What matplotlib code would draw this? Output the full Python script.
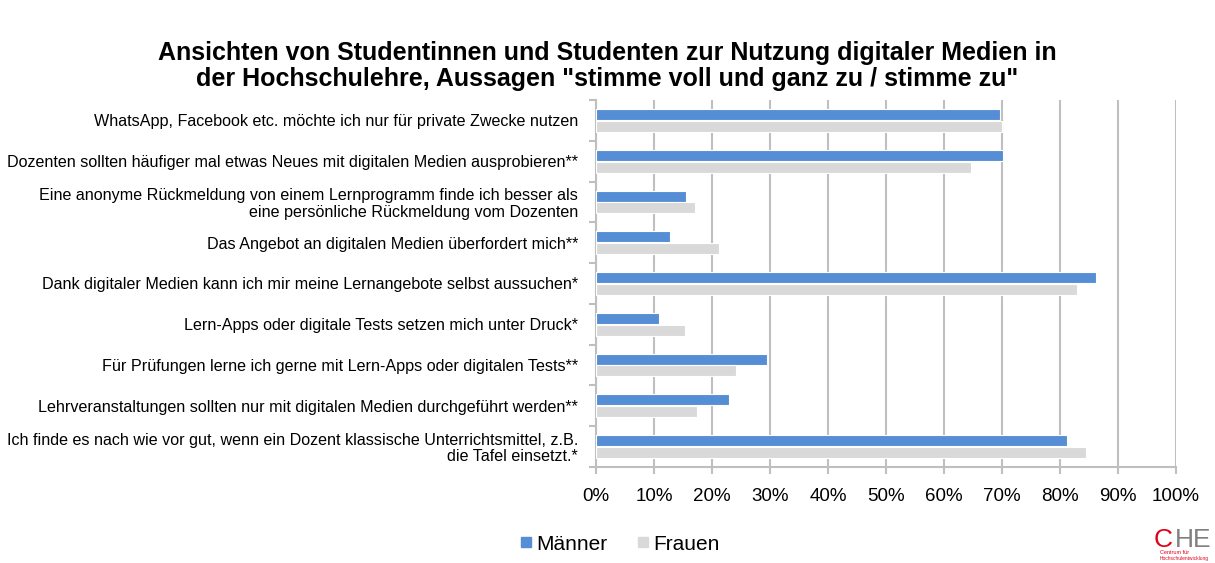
import matplotlib
matplotlib.use("Agg")
import matplotlib.pyplot as plt
from matplotlib.lines import Line2D
import numpy as np

plt.rcParams['font.family'] = ['Liberation Sans', 'DejaVu Sans']

categories = [
    'WhatsApp, Facebook etc. möchte ich nur für private Zwecke nutzen',
    'Dozenten sollten häufiger mal etwas Neues mit digitalen Medien ausprobieren**',
    'Eine anonyme Rückmeldung von einem Lernprogramm finde ich besser als\neine persönliche Rückmeldung vom Dozenten',
    'Das Angebot an digitalen Medien überfordert mich**',
    'Dank digitaler Medien kann ich mir meine Lernangebote selbst aussuchen*',
    'Lern-Apps oder digitale Tests setzen mich unter Druck*',
    'Für Prüfungen lerne ich gerne mit Lern-Apps oder digitalen Tests**',
    'Lehrveranstaltungen sollten nur mit digitalen Medien durchgeführt werden**',
    'Ich finde es nach wie vor gut, wenn ein Dozent klassische Unterrichtsmittel, z.B.\ndie Tafel einsetzt.*',
]
maenner = [69.7, 70.2, 15.5, 12.8, 86.2, 10.8, 29.5, 22.9, 81.2]
frauen = [70.0, 64.7, 17.1, 21.2, 82.9, 15.3, 24.1, 17.4, 84.5]
xticks = [0, 10, 20, 30, 40, 50, 60, 70, 80, 90, 100]
xticklabels = [f'{v}%' for v in xticks]

blue = '#558ED5'
grey = '#D9D9D9'

fig = plt.figure(figsize=(12.15, 5.63), dpi=100)
ax = fig.add_axes([596/1215, 1-467/563, 580/1215, 367/563])

y = np.arange(len(categories))
h = 0.27
ax.barh(y - 0.145, maenner, height=h, color=blue, edgecolor='white', linewidth=0.8, zorder=3, label='Männer')
ax.barh(y + 0.145, frauen, height=h, color=grey, edgecolor='white', linewidth=0.8, zorder=3, label='Frauen')

ax.set_xlim(0, 100)
ax.set_ylim(len(categories) - 0.5, -0.5)
ax.set_xticks(xticks)
ax.set_xticklabels(xticklabels, fontsize=13.5)
ax.set_yticks(y)
ax.set_yticklabels(categories, fontsize=11.6, linespacing=1.1)
ax.tick_params(axis='y', length=0, pad=13)
ax.tick_params(axis='x', length=5, color='#BFBFBF', width=1.5, pad=10)
ax.set_yticks(np.arange(-0.5, len(categories), 1.0), minor=True)
ax.tick_params(axis='y', which='minor', length=5, color='#BFBFBF', width=1.5)

ax.grid(axis='x', color='#BFBFBF', linewidth=1.5, zorder=0)
for s in ['top', 'right']:
    ax.spines[s].set_visible(False)
for s in ['left', 'bottom']:
    ax.spines[s].set_color('#BFBFBF')
    ax.spines[s].set_linewidth(1.5)

fig.text(0.5, 1-66/563, 'Ansichten von Studentinnen und Studenten zur Nutzung digitaler Medien in\nder Hochschulehre, Aussagen "stimme voll und ganz zu / stimme zu"',
         ha='center', va='center', fontsize=18, fontweight='bold', linespacing=1.08)

handles = [Line2D([], [], marker='s', color=blue, linestyle='none', markersize=7),
           Line2D([], [], marker='s', color=grey, linestyle='none', markersize=7)]
fig.legend(handles, ['Männer', 'Frauen'], loc='center', bbox_to_anchor=(618/1215, 1-544/563),
           ncol=2, frameon=False, fontsize=15, handletextpad=0.0, columnspacing=1.2, handlelength=1.0)

# CHE logo
fig.text(1173/1215, 1-547/563, 'C', color='#E2001A', fontsize=19, ha='right', va='baseline')
fig.text(1175/1215, 1-547/563, 'HE', color='#808080', fontsize=19, ha='left', va='baseline')
fig.text(1160/1215, 1-554/563, 'Centrum für', color='#E2001A', fontsize=4, ha='left', va='baseline')
fig.text(1160/1215, 1-560/563, 'Hochschulentwicklung', color='#E2001A', fontsize=3.5, ha='left', va='baseline')

fig.savefig('out.png', dpi=100)
